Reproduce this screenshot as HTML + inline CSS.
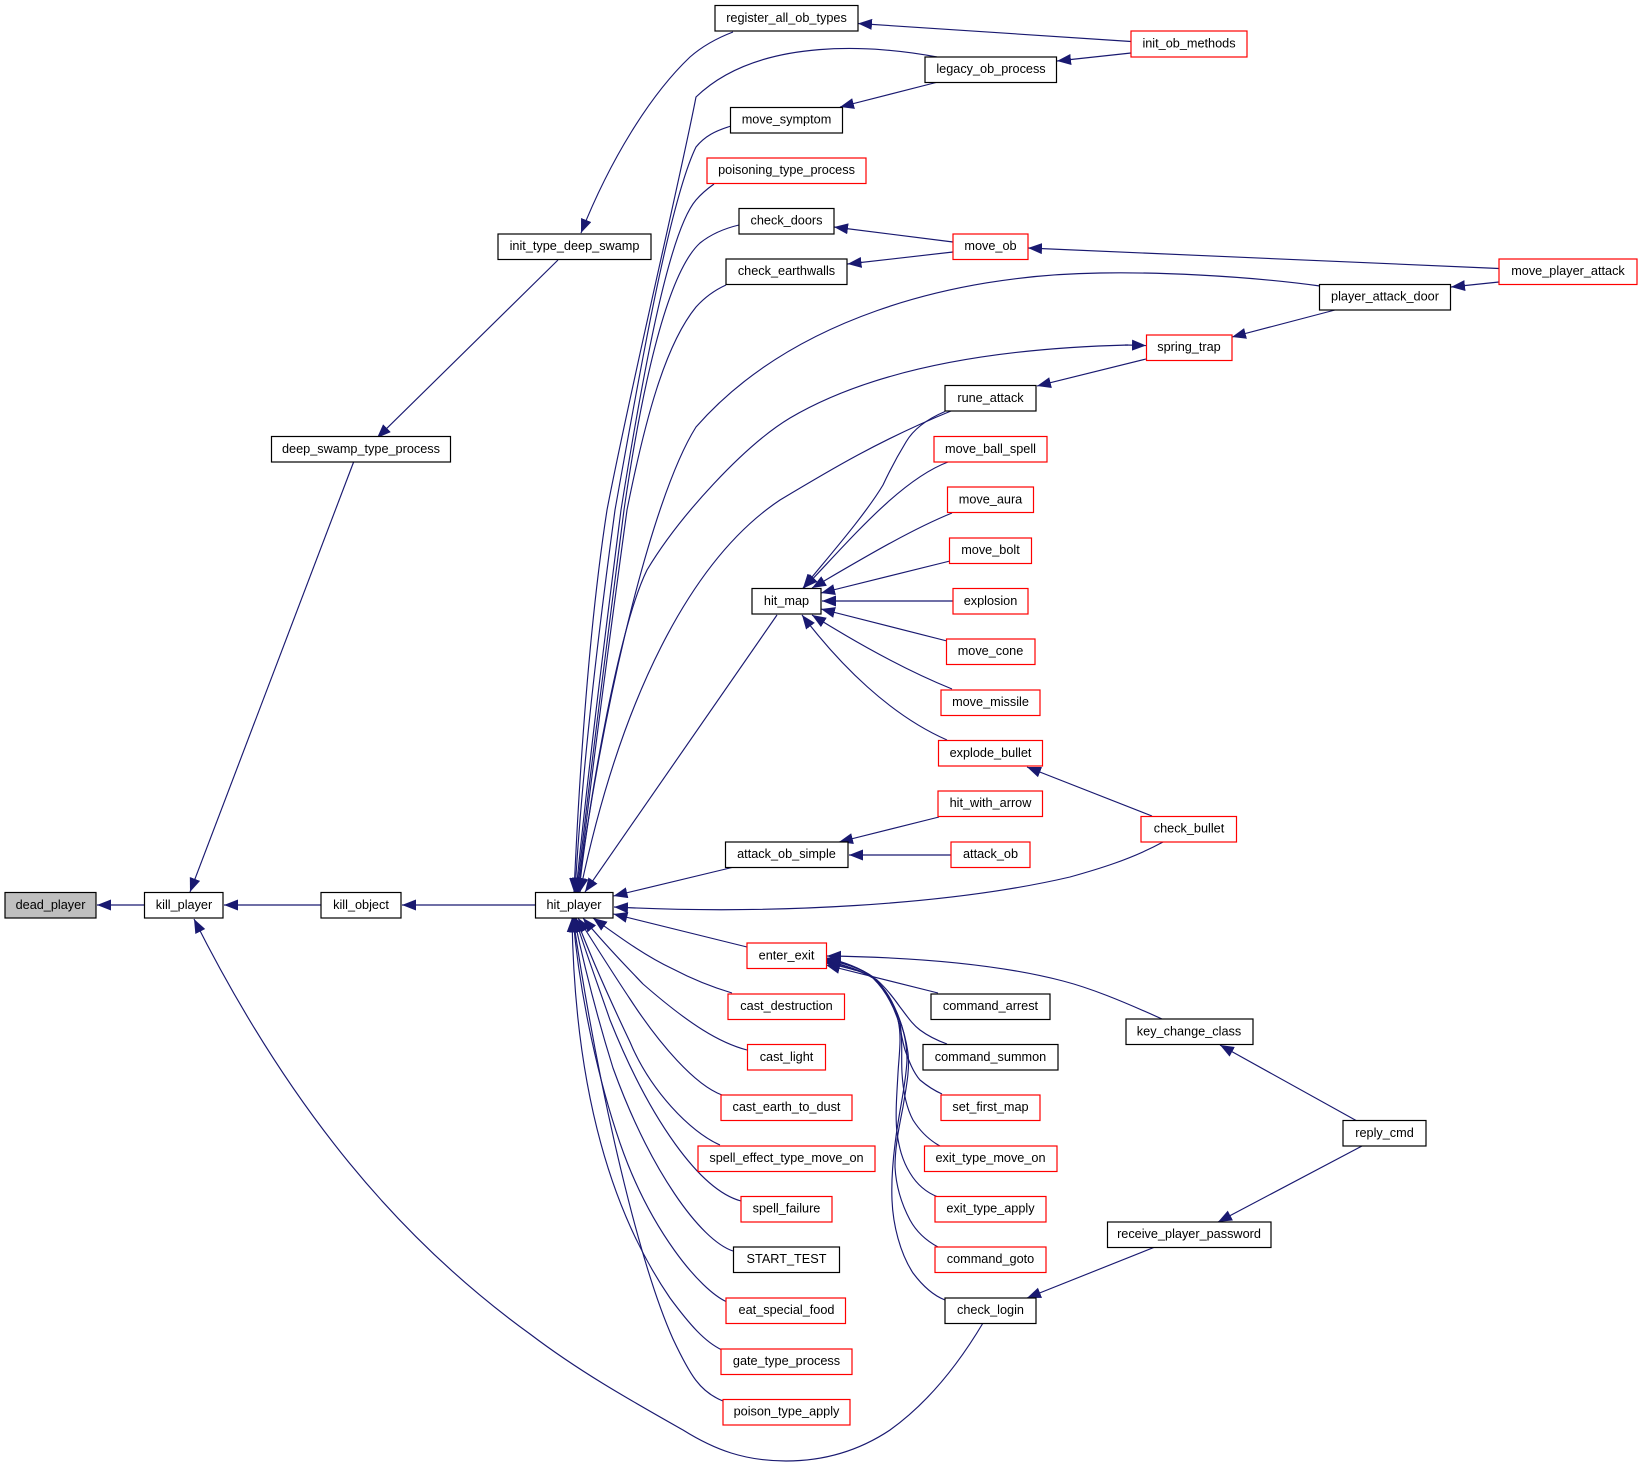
<!DOCTYPE html>
<html><head><meta charset="utf-8"><title>dead_player</title>
<style>
html,body{margin:0;padding:0;background:#fff}
svg{display:block}
text{font-family:"Liberation Sans",sans-serif;font-size:12.7px;text-anchor:middle;fill:#000;transform:translateY(-.8px)}
.e path{fill:none;stroke:#191970;stroke-width:1.15;marker-end:url(#a)}
.b rect{fill:#fff;stroke:#000;stroke-width:1.2}
.r rect{fill:#fff;stroke:#f00;stroke-width:1.2}
</style></head><body>
<svg width="1643" height="1466" viewBox="0 0 1643 1466" xmlns="http://www.w3.org/2000/svg">
<defs><marker id="a" markerUnits="userSpaceOnUse" markerWidth="15" markerHeight="12" refX="14" refY="5.5" orient="auto"><path d="M0,0 L14,5.5 L0,11 Z" fill="#191970"/></marker></defs>
<rect width="1643" height="1466" fill="#fff"/>
<g class="e">
<path d="M144,905 L97,905"/>
<path d="M321,905 L224,905"/>
<path d="M535,905 L402,905"/>
<path d="M354,461 L190,892"/>
<path d="M983,1323 C955,1370 925,1405 890,1430 C860,1450 825,1461 786,1461 C745,1461 715,1450 683,1430 C630,1400 580,1372 530,1334 C400,1240 290,1110 194,919"/>
<path d="M558,260 L377,438"/>
<path d="M733,32 C712,40 698,50 690,57 C650,95 610,160 581,233"/>
<path d="M1131,41.5 L858,23.5"/>
<path d="M1131,53 L1057,61"/>
<path d="M938,82 L840,107"/>
<path d="M937,57 C880,46 760,35 696,97 C680,180 630,390 607,510 C590,620 580,760 574,892"/>
<path d="M731,126 C715,131 705,136 696,147 C670,200 640,370 615,510 C600,620 582,770 575,892"/>
<path d="M714,184 C707,189 702,193 696,200 C670,230 645,360 621,510 C607,620 588,770 576,892"/>
<path d="M739,225 C722,229 710,235 700,243 C665,275 640,400 624,510 C610,620 590,770 577,892"/>
<path d="M726,285 C715,290 705,297 696,307 C665,345 645,420 627,510 C612,620 592,770 578,892"/>
<path d="M1320,286 C1240,275 1150,272 1100,273 C950,275 790,320 696,427 C650,500 600,720 578,892"/>
<path d="M1128,345 C1010,348 880,365 790,418 C745,445 680,515 647,570 C620,625 590,790 579,892"/>
<path d="M1125,345 L1146,345.5"/>
<path d="M951,411 C880,440 830,470 780,500 C690,560 620,700 580,892"/>
<path d="M777,615 L585,892"/>
<path d="M732,867.5 L613.5,896"/>
<path d="M1163,842 C1130,860 1095,870 1070,877 C950,905 770,915 614,907"/>
<path d="M747,947 L613.5,914"/>
<path d="M732,993 C712,987 692,979 673,969 C645,956 618,936 593,918"/>
<path d="M747,1050 C720,1043 690,1025 643,984 C625,965 605,945 583,918"/>
<path d="M722,1095 C695,1085 660,1045 630,999 C612,972 595,945 578,918"/>
<path d="M720,1145 C690,1132 650,1090 630,1042 C610,1000 592,960 576,918"/>
<path d="M741,1201 C700,1190 650,1120 610,1020 C598,985 585,950 575,918"/>
<path d="M733,1251 C700,1240 650,1170 613,1068 C598,1020 584,965 574,918"/>
<path d="M727,1302 C700,1290 650,1230 620,1143 C600,1085 580,1000 573,918"/>
<path d="M722,1350 C705,1342 690,1325 670,1298 C620,1225 575,1110 572,918"/>
<path d="M723,1401 C700,1392 690,1375 673,1339 C640,1265 600,1100 573,918"/>
<path d="M945,411.5 C925,420 913,430 906,442 C895,460 890,470 883,485 C865,515 830,555 803,588"/>
<path d="M948,462 C900,480 850,540 804,588"/>
<path d="M952,513 C910,530 860,560 812,588"/>
<path d="M950,561 L821,593"/>
<path d="M953,601 L822,601"/>
<path d="M947,641 L821,609"/>
<path d="M952,689 C910,672 860,645 812,615"/>
<path d="M947,740 C890,715 840,665 802,615"/>
<path d="M1152,816 L1027,767"/>
<path d="M939,817 L839,842"/>
<path d="M951,855 L849,855"/>
<path d="M953,242 L834,227"/>
<path d="M953,252 L847.5,264"/>
<path d="M1499,268.5 L1028,248"/>
<path d="M1499,282 L1451,287"/>
<path d="M1335,310 L1232,337"/>
<path d="M1146,359 L1037,386"/>
<path d="M1162,1019 C1120,1000 1090,988 1063,981 C990,962 900,957 827,956"/>
<path d="M938,993 L826,965"/>
<path d="M947,1044 C936,1040 928,1036 920,1030 C912,1024 907,1016 900,1007 C893,997 886,988 877,980 C868,973 850,968 826,963"/>
<path d="M942,1094 C933,1090 926,1085 920,1080 C913,1072 909,1061 905,1050 C902,1040 901,1030 898,1020 C893,1005 885,990 873,978 C860,970 845,965 826,962"/>
<path d="M940,1146 C929,1140 920,1131 913,1120 C906,1107 903,1090 902,1073 C901,1055 903,1040 900,1023 C896,1005 885,990 873,978 C860,970 845,965 826,961"/>
<path d="M938,1197 C925,1192 916,1183 910,1173 C902,1160 899,1147 897,1133 C895,1115 897,1092 898,1073 C899,1055 902,1037 898,1020 C895,1003 885,988 873,977 C860,968 845,963 826,960"/>
<path d="M938,1247 C925,1240 916,1231 910,1220 C901,1203 896,1186 895,1167 C895,1147 899,1127 903,1107 C906,1088 910,1070 908,1053 C906,1038 902,1025 897,1013 C890,997 882,985 873,977 C860,968 845,963 826,959"/>
<path d="M945,1300 C932,1295 922,1285 913,1273 C900,1253 893,1225 892,1200 C891,1175 894,1148 898,1123 C901,1103 906,1082 907,1060 C907,1042 903,1027 897,1013 C890,997 882,985 873,977 C860,968 845,962 826,958"/>
<path d="M1155,1247 L1027,1298"/>
<path d="M1362,1146 L1218,1222"/>
<path d="M1357,1121 L1220,1045"/>
</g>
<g class="b">
<rect x="5" y="892.5" width="91" height="25.5" style="fill:#bfbfbf"/><text x="50.5" y="910">dead_player</text>
<rect x="144.5" y="892.5" width="78.5" height="25.5"/><text x="184" y="910">kill_player</text>
<rect x="321" y="892.5" width="80" height="25.5"/><text x="361" y="910">kill_object</text>
<rect x="535.5" y="892.5" width="77.5" height="25.5"/><text x="574" y="910">hit_player</text>
<rect x="271.5" y="436.5" width="179" height="25.5"/><text x="361" y="454">deep_swamp_type_process</text>
<rect x="498" y="234" width="153" height="25.5"/><text x="574.5" y="251">init_type_deep_swamp</text>
<rect x="715" y="5.5" width="143" height="25.5"/><text x="786.5" y="23">register_all_ob_types</text>
<rect x="925" y="57" width="131.5" height="25.5"/><text x="991" y="74">legacy_ob_process</text>
<rect x="730.5" y="107.5" width="112" height="25.5"/><text x="786.5" y="124.5">move_symptom</text>
<rect x="739" y="208.5" width="95" height="25.5"/><text x="786.5" y="225.5">check_doors</text>
<rect x="726" y="259" width="121" height="25.5"/><text x="786.5" y="276">check_earthwalls</text>
<rect x="1319.5" y="284.5" width="131" height="25.5"/><text x="1385" y="301.5">player_attack_door</text>
<rect x="945" y="385.5" width="91" height="25.5"/><text x="990.5" y="403">rune_attack</text>
<rect x="752" y="588.5" width="69" height="25.5"/><text x="786.5" y="606">hit_map</text>
<rect x="725.5" y="842" width="122.5" height="25.5"/><text x="786.5" y="859">attack_ob_simple</text>
<rect x="931" y="994" width="119" height="25.5"/><text x="990.5" y="1011">command_arrest</text>
<rect x="923" y="1044.5" width="135" height="25.5"/><text x="990.5" y="1062">command_summon</text>
<rect x="1126" y="1019" width="127" height="25.5"/><text x="1189" y="1036.5">key_change_class</text>
<rect x="1343" y="1120.5" width="83" height="25.5"/><text x="1384.5" y="1138">reply_cmd</text>
<rect x="1107.5" y="1222" width="163.5" height="25.5"/><text x="1189" y="1239">receive_player_password</text>
<rect x="945" y="1298" width="91" height="25.5"/><text x="990.5" y="1315">check_login</text>
<rect x="733.5" y="1247" width="106" height="25.5"/><text x="786.5" y="1264">START_TEST</text>
</g>
<g class="r">
<rect x="1131" y="31" width="116" height="26"/><text x="1189" y="48.5">init_ob_methods</text>
<rect x="707" y="158" width="159" height="25.5"/><text x="786.5" y="175">poisoning_type_process</text>
<rect x="953" y="234" width="75" height="25.5"/><text x="990.5" y="251">move_ob</text>
<rect x="1499" y="259" width="138" height="25.5"/><text x="1568" y="276">move_player_attack</text>
<rect x="1146.5" y="335" width="85.5" height="25.5"/><text x="1189" y="352">spring_trap</text>
<rect x="934" y="436.5" width="113" height="25.5"/><text x="990.5" y="454">move_ball_spell</text>
<rect x="947.5" y="487" width="86" height="25.5"/><text x="990.5" y="504.5">move_aura</text>
<rect x="949.5" y="538" width="82" height="25.5"/><text x="990.5" y="555">move_bolt</text>
<rect x="953" y="588.5" width="75" height="25.5"/><text x="990.5" y="606">explosion</text>
<rect x="946.5" y="639" width="88.5" height="25.5"/><text x="990.5" y="656">move_cone</text>
<rect x="941" y="690" width="99" height="25.5"/><text x="990.5" y="707">move_missile</text>
<rect x="938.5" y="740.5" width="104" height="25.5"/><text x="990.5" y="758">explode_bullet</text>
<rect x="938" y="791" width="104.5" height="25.5"/><text x="990.5" y="808">hit_with_arrow</text>
<rect x="951" y="842" width="79" height="25.5"/><text x="990.5" y="859">attack_ob</text>
<rect x="1141" y="816.5" width="95.5" height="25.5"/><text x="1189" y="833.5">check_bullet</text>
<rect x="747" y="943" width="79.5" height="25.5"/><text x="786.5" y="960.5">enter_exit</text>
<rect x="728" y="994" width="116.5" height="25.5"/><text x="786.5" y="1011">cast_destruction</text>
<rect x="747.5" y="1044.5" width="78" height="25.5"/><text x="786.5" y="1062">cast_light</text>
<rect x="721" y="1095" width="131" height="25.5"/><text x="786.5" y="1112">cast_earth_to_dust</text>
<rect x="698" y="1146" width="177" height="25.5"/><text x="786.5" y="1163">spell_effect_type_move_on</text>
<rect x="741" y="1196.5" width="91" height="25.5"/><text x="786.5" y="1213.5">spell_failure</text>
<rect x="726" y="1298" width="119.5" height="25.5"/><text x="786.5" y="1315">eat_special_food</text>
<rect x="721" y="1349" width="131" height="25.5"/><text x="786.5" y="1366">gate_type_process</text>
<rect x="723" y="1399.5" width="127" height="25.5"/><text x="786.5" y="1416.5">poison_type_apply</text>
<rect x="941" y="1095" width="99" height="25.5"/><text x="990.5" y="1112">set_first_map</text>
<rect x="924.5" y="1146" width="132.5" height="25.5"/><text x="990.5" y="1163">exit_type_move_on</text>
<rect x="935" y="1196.5" width="111" height="25.5"/><text x="990.5" y="1213.5">exit_type_apply</text>
<rect x="935" y="1247" width="111" height="25.5"/><text x="990.5" y="1264">command_goto</text>
</g>
</svg>
</body></html>
